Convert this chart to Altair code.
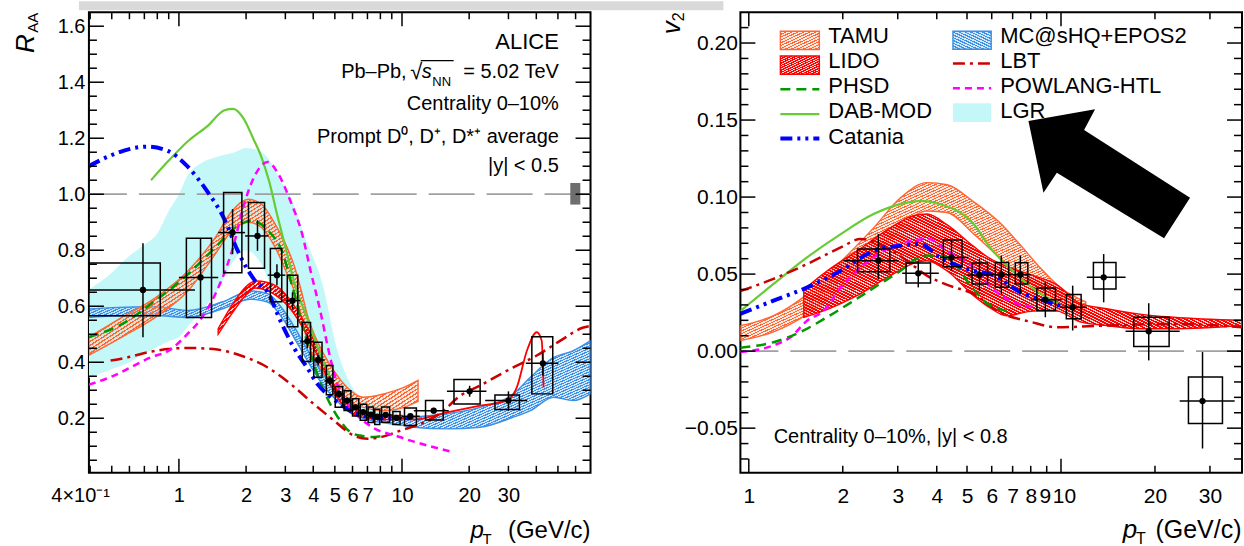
import altair as alt
import pandas as pd

FONT = "Liberation Sans"

# ================= Left panel: R_AA data (ALICE) =================
RAA_PT   = [0.69, 1.25, 1.74, 2.25, 2.75, 3.23, 3.76, 4.21, 4.75, 5.21, 5.68, 6.19, 6.7, 7.25, 7.75, 8.45, 9.45, 10.9, 13.87, 20.1, 30.0, 42.8]
RAA      = [0.658, 0.703, 0.863, 0.851, 0.711, 0.62, 0.4745, 0.408, 0.334, 0.287, 0.263, 0.239, 0.222, 0.213, 0.206, 0.212, 0.201, 0.207, 0.227, 0.296, 0.263, 0.396]
RAA_STLO = [0.489, 0.565, 0.786, 0.798, 0.675, 0.59, 0.45, 0.388, 0.318, 0.275, 0.252, 0.229, 0.213, 0.205, 0.198, 0.204, 0.193, 0.199, 0.217, 0.277, 0.227, 0.352]
RAA_STHI = [0.825, 0.84, 0.947, 0.907, 0.75, 0.65, 0.50, 0.428, 0.35, 0.30, 0.274, 0.249, 0.231, 0.221, 0.214, 0.22, 0.209, 0.215, 0.237, 0.316, 0.296, 0.435]
RAA_SYLO = [0.566, 0.56, 0.72, 0.736, 0.616, 0.527, 0.403, 0.346, 0.284, 0.239, 0.228, 0.208, 0.193, 0.185, 0.178, 0.186, 0.178, 0.174, 0.194, 0.251, 0.231, 0.287]
RAA_SYHI = [0.754, 0.843, 1.006, 0.97, 0.806, 0.711, 0.542, 0.471, 0.388, 0.313, 0.298, 0.27, 0.25, 0.24, 0.232, 0.24, 0.224, 0.237, 0.263, 0.338, 0.283, 0.491]
RAA_BXLO = [0.395, 1.08, 1.586, 2.05, 2.57, 3.06, 3.57, 4.02, 4.58, 5.02, 5.5, 6.0, 6.5, 7.05, 7.55, 8.1, 9.1, 10.26, 12.75, 17.1, 26.1, 38.2]
RAA_BXHI = [0.825, 1.40, 1.915, 2.42, 2.89, 3.41, 3.89, 4.38, 4.9, 5.42, 5.9, 6.4, 6.95, 7.45, 7.95, 8.8, 9.8, 11.6, 15.3, 22.4, 33.6, 47.4]
RAA_XLO  = [0.395, 1.0, 1.5, 1.98, 2.5, 3.0, 3.5, 4.0, 4.5, 5.0, 5.5, 6.0, 6.5, 7.0, 7.5, 8.0, 9.0, 10.0, 11.3, 15.9, 23.6, 35.9]
RAA_XHI  = [1.18, 1.5, 1.98, 2.52, 3.0, 3.5, 4.0, 4.5, 5.0, 5.5, 6.0, 6.5, 7.0, 7.5, 8.0, 9.0, 10.0, 12.0, 16.2, 23.9, 36.4, 50.2]
NORM_PT  = [56.8, 63.0]
NORM_R   = [0.963, 1.04]

# ---- left panel models ----
L_LGR_PT = [0.395, 0.5, 0.6, 0.7, 0.8, 0.9, 1.0, 1.1, 1.25, 1.5, 1.75, 2.0, 2.3, 2.5, 2.85, 3.2, 3.7, 4.4, 5.1, 5.9, 6.5, 7.2, 8.3, 9.5]
L_LGR_HI = [0.66, 0.72, 0.78, 0.82, 0.86, 0.94, 1.0, 1.07, 1.11, 1.135, 1.148, 1.165, 1.155, 1.13, 1.05, 0.98, 0.84, 0.68, 0.45, 0.32, 0.275, 0.257, 0.25, 0.24]
L_LGR_LO = [0.345, 0.375, 0.40, 0.43, 0.455, 0.475, 0.49, 0.53, 0.58, 0.66, 0.76, 0.80, 0.76, 0.70, 0.59, 0.50, 0.42, 0.33, 0.28, 0.24, 0.225, 0.215, 0.21, 0.21]

L_MC_PT = [0.395, 0.5, 0.78, 1.1, 1.56, 2.1, 2.5, 2.95, 3.27, 3.8, 4.5, 5.0, 6.0, 7.0, 8.0, 10.0, 11.3, 15.9, 22.4, 31.6, 37.6, 47.8, 58.6, 70.0]
L_MC_HI = [0.59, 0.595, 0.598, 0.585, 0.615, 0.655, 0.645, 0.585, 0.53, 0.44, 0.35, 0.30, 0.245, 0.22, 0.21, 0.20, 0.204, 0.216, 0.239, 0.287, 0.346, 0.417, 0.441, 0.477]
L_MC_LO = [0.56, 0.565, 0.567, 0.56, 0.59, 0.625, 0.615, 0.55, 0.49, 0.40, 0.31, 0.27, 0.215, 0.195, 0.185, 0.175, 0.168, 0.162, 0.168, 0.204, 0.227, 0.275, 0.263, 0.287]

L_TAMU_PT = [0.395, 0.555, 0.784, 1.1, 1.455, 1.73, 2.05, 2.35, 2.7, 3.1, 3.27, 3.55, 3.76, 4.3, 4.95, 5.68, 6.73, 8.3, 10.2, 11.8]
L_TAMU_HI = [0.49, 0.56, 0.63, 0.727, 0.845, 0.94, 0.982, 0.964, 0.893, 0.798, 0.75, 0.65, 0.57, 0.453, 0.37, 0.31, 0.275, 0.287, 0.31, 0.335]
L_TAMU_LO = [0.425, 0.49, 0.56, 0.655, 0.786, 0.87, 0.90, 0.88, 0.81, 0.703, 0.66, 0.56, 0.475, 0.382, 0.31, 0.263, 0.239, 0.227, 0.239, 0.26]

L_LIDO_PT = [1.5, 1.75, 2.0, 2.2, 2.5, 2.76, 3.27, 3.76, 4.17, 4.62, 5.12, 5.68, 6.5, 8.3, 10.0]
L_LIDO_HI = [0.52, 0.61, 0.67, 0.69, 0.685, 0.67, 0.605, 0.525, 0.455, 0.37, 0.30, 0.25, 0.225, 0.21, 0.21]
L_LIDO_LO = [0.50, 0.58, 0.64, 0.665, 0.655, 0.635, 0.575, 0.495, 0.425, 0.345, 0.275, 0.23, 0.205, 0.195, 0.195]
L_LIDO_LINE_PT = [10.0, 11.3, 15.9, 22.4, 29.5, 32.7, 36.3, 40.2, 42.3, 43.1]
L_LIDO_LINE_R  = [0.202, 0.195, 0.221, 0.245, 0.263, 0.31, 0.441, 0.507, 0.477, 0.31]

L_PHSD_PT = [0.395, 0.555, 0.784, 1.1, 1.455, 1.79, 2.12, 2.52, 2.89, 3.3, 3.7, 4.2, 4.77, 5.3, 5.87, 6.5, 7.5, 8.5]
L_PHSD_R  = [0.49, 0.536, 0.62, 0.715, 0.81, 0.881, 0.905, 0.869, 0.798, 0.64, 0.49, 0.35, 0.25, 0.19, 0.15, 0.138, 0.133, 0.14]

L_DAB_PT = [0.75, 0.9, 1.1, 1.35, 1.6, 1.75, 1.95, 2.15, 2.35, 2.55, 2.75, 3.05, 3.3, 3.75, 4.2, 4.8]
L_DAB_R  = [1.05, 1.12, 1.19, 1.245, 1.30, 1.305, 1.27, 1.2, 1.13, 1.04, 0.93, 0.79, 0.68, 0.56, 0.45, 0.34]

L_CAT_PT = [0.395, 0.5, 0.63, 0.72, 0.89, 1.09, 1.34, 1.59, 1.83, 2.0, 2.2, 2.5, 2.85, 3.27, 3.76, 4.2, 4.8, 5.4, 5.9, 6.7, 8.0, 10.0, 11.0]
L_CAT_R  = [1.10, 1.14, 1.165, 1.17, 1.155, 1.10, 1.01, 0.915, 0.80, 0.74, 0.69, 0.65, 0.548, 0.453, 0.38, 0.32, 0.275, 0.245, 0.225, 0.21, 0.2, 0.2, 0.2]

L_LBT_PT = [0.494, 0.587, 0.722, 0.887, 1.09, 1.43, 1.89, 2.49, 3.16, 4.02, 4.95, 6.07, 6.98, 8.0, 9.86, 12.1, 14.7, 18.3, 22.4, 31.6, 40.2, 51.3, 65.0, 70.0]
L_LBT_R  = [0.406, 0.417, 0.435, 0.447, 0.451, 0.447, 0.424, 0.382, 0.323, 0.251, 0.192, 0.138, 0.127, 0.132, 0.156, 0.18, 0.215, 0.281, 0.317, 0.382, 0.424, 0.477, 0.524, 0.53]

L_POW_PT = [0.395, 0.49, 0.747, 0.915, 1.09, 1.23, 1.455, 1.73, 1.98, 2.2, 2.5, 2.8, 3.16, 3.57, 3.89, 4.3, 4.69, 5.12, 5.87, 6.98, 9.86, 16.4]
L_POW_R  = [0.32, 0.346, 0.417, 0.445, 0.50, 0.545, 0.643, 0.798, 0.976, 1.07, 1.115, 1.07, 0.976, 0.857, 0.727, 0.584, 0.441, 0.323, 0.239, 0.18, 0.132, 0.082]

# ================= Right panel: v2 data (ALICE) =================
V2_PT   = [2.6, 3.49, 4.46, 5.48, 6.44, 7.41, 8.91, 10.9, 13.7, 19.1, 28.4]
V2      = [0.0587, 0.0505, 0.0608, 0.0494, 0.0496, 0.0496, 0.0333, 0.0285, 0.0479, 0.0129, -0.0324]
V2_STLO = [0.0469, 0.0414, 0.0522, 0.0393, 0.0371, 0.037, 0.022, 0.0134, 0.0317, -0.006, -0.0632]
V2_STHI = [0.076, 0.0587, 0.0717, 0.0598, 0.062, 0.062, 0.0447, 0.0425, 0.063, 0.0311, -0.0006]
V2_SYLO = [0.0516, 0.0443, 0.0548, 0.0436, 0.0414, 0.0436, 0.0263, 0.021, 0.0404, 0.003, -0.047]
V2_SYHI = [0.0663, 0.0572, 0.0721, 0.0572, 0.0576, 0.0574, 0.041, 0.0367, 0.0576, 0.022, -0.0168]
V2_BXLO = [2.23, 3.19, 4.2, 5.19, 6.16, 7.14, 8.37, 10.4, 12.7, 17.1, 25.6]
V2_BXHI = [2.83, 3.82, 4.82, 5.82, 6.8, 7.83, 9.6, 11.6, 15.0, 22.2, 32.9]
V2_XLO  = [2.01, 3.1, 4.1, 5.0, 6.0, 7.0, 8.0, 9.94, 12.1, 16.1, 24.0]
V2_XHI  = [3.02, 4.06, 5.06, 6.0, 7.0, 8.0, 10.06, 12.1, 16.1, 24.0, 36.0]

R_TAMU_PT = [0.94, 1.2, 1.54, 1.97, 2.51, 3.06, 3.72, 4.32, 5.25, 6.4, 7.4, 8.5, 10.0, 12.0]
R_TAMU_HI = [0.0166, 0.023, 0.037, 0.058, 0.080, 0.0995, 0.1094, 0.108, 0.097, 0.083, 0.069, 0.055, 0.041, 0.032]
R_TAMU_LO = [0.0069, 0.0125, 0.024, 0.041, 0.061, 0.080, 0.091, 0.090, 0.076, 0.060, 0.048, 0.038, 0.030, 0.026]

R_LIDO_PT = [1.5, 1.78, 2.22, 2.84, 3.37, 3.72, 4.32, 5.25, 5.93, 6.7, 8.17, 9.7, 11.5, 14.0, 17.9, 22.9, 38.0]
R_LIDO_HI = [0.040, 0.052, 0.065, 0.080, 0.088, 0.089, 0.082, 0.068, 0.060, 0.055, 0.049, 0.043, 0.031, 0.0275, 0.024, 0.022, 0.020]
R_LIDO_LO = [0.022, 0.027, 0.036, 0.049, 0.057, 0.0587, 0.052, 0.036, 0.028, 0.023, 0.026, 0.026, 0.019, 0.0166, 0.0145, 0.0145, 0.0166]

R_PHSD_PT = [0.94, 1.2, 1.46, 1.78, 2.17, 2.63, 3.06, 3.37, 3.72, 4.3, 5.25, 5.8, 6.8]
R_PHSD_V  = [0.0022, 0.0058, 0.0123, 0.022, 0.0328, 0.0436, 0.0522, 0.0587, 0.062, 0.061, 0.040, 0.031, 0.026]

R_DAB_PT = [0.94, 1.2, 1.54, 1.97, 2.51, 3.21, 3.54, 4.1, 5.25, 5.93, 7.0, 8.5, 10.0]
R_DAB_V  = [0.026, 0.0436, 0.061, 0.076, 0.089, 0.0964, 0.0975, 0.0954, 0.0825, 0.0673, 0.052, 0.038, 0.030]

R_CAT_PT = [0.94, 1.2, 1.54, 1.97, 2.51, 3.06, 3.54, 4.1, 5.25, 5.93, 7.6, 9.2, 10.2]
R_CAT_V  = [0.0242, 0.0328, 0.0414, 0.0522, 0.065, 0.0684, 0.0695, 0.0608, 0.0522, 0.05, 0.0371, 0.0317, 0.0285]

R_LBT_PT = [0.94, 1.2, 1.54, 1.97, 2.28, 2.63, 3.21, 3.72, 4.32, 5.25, 6.4, 8.0, 9.7, 14.0, 22.9, 38.0]
R_LBT_V  = [0.039, 0.0469, 0.0566, 0.0673, 0.0728, 0.0695, 0.0587, 0.049, 0.043, 0.037, 0.025, 0.019, 0.0155, 0.0166, 0.0177, 0.0155]

R_POW_PT = [0.94, 1.2, 1.36, 1.54, 1.74, 1.97, 2.22, 2.51, 2.84, 3.37, 3.72, 4.32, 5.25, 5.93, 7.2, 8.4]
R_POW_V  = [-0.0006, 0.0037, 0.009, 0.0199, 0.0263, 0.0414, 0.0522, 0.0608, 0.0673, 0.0717, 0.073, 0.065, 0.0544, 0.042, 0.031, 0.0285]

# tick labels
XL_LABELS = [0.4, 1, 2, 3, 4, 5, 6, 7, 10, 20, 30]
YL_LABELS = [0.2, 0.4, 0.6, 0.8, 1.0, 1.2, 1.4, 1.6]
XR_LABELS = [1, 2, 3, 4, 5, 6, 7, 8, 9, 10, 20, 30]
YR_LABELS = [-0.05, 0.0, 0.05, 0.10, 0.15, 0.20]

LEG_LEFT = ["TAMU", "LIDO", "PHSD", "DAB-MOD", "Catania"]
LEG_RIGHT = ["MC@sHQ+EPOS2", "LBT", "POWLANG-HTL", "LGR"]

# ================= styles =================
C_TAMU = "#ff6633"
C_LIDO = "#ff0000"
C_MC = "#3d8fe6"
C_LGR = "#c4f7f8"
C_PHSD = "#009900"
C_DAB = "#66cc33"
C_CAT = "#0000ff"
C_LBT = "#cc0000"
C_POW = "#ff00ff"
D_PHSD = [10, 6]
D_POW = [7, 5]
D_LBT = [12, 5, 3, 5]
D_CAT = [12, 5, 3, 5, 3, 5]


def hatch(color, gap, n, duty, down=False):
    """Striped linear gradient that imitates a ROOT hatch fill."""
    stops = []
    for i in range(n):
        a = round(i / n, 5)
        b = round((i + duty) / n, 5)
        c = round((i + 1) / n, 5)
        stops += [{"offset": a, "color": color}, {"offset": b, "color": color},
                  {"offset": b, "color": gap}, {"offset": c, "color": gap}]
    if down:
        return {"gradient": "linear", "x1": 0, "y1": 1, "x2": 1, "y2": 0, "stops": stops}
    return {"gradient": "linear", "x1": 0, "y1": 0, "x2": 1, "y2": 1, "stops": stops}


G_TAMU = "rgba(255,190,160,0.35)"
G_LIDO = "rgba(255,170,170,0.55)"
G_MC = "rgba(170,210,248,0.55)"

W, H = 502, 461
one = pd.DataFrame({"k": [0]})

AX_XL = alt.Axis(values=XL_LABELS, ticks=False, domain=False, grid=False, title=None,
                 labelExpr="datum.value < 0.5 ? '4×10⁻¹' : format(datum.value, '~g')",
                 labelFontSize=20, labelPadding=13, labelOverlap=False, labelFlush=False,
                 labelOffset={"condition": {"test": "datum.value < 0.5", "value": -10}, "value": 0})
AX_YL = alt.Axis(values=YL_LABELS, format=".1f", ticks=False, domain=False, grid=False, title=None,
                 labelFontSize=20, labelPadding=4, labelOverlap=False)
AX_XR = alt.Axis(values=XR_LABELS, format="~g", ticks=False, domain=False, grid=False, title=None,
                 labelFontSize=21, labelPadding=13, labelOverlap=False, labelFlush=False,
                 labelOffset={"expr": "datum.value == 10 ? 3 : (datum.value == 9 ? -2 : 0)"})
AX_YR = alt.Axis(values=YR_LABELS, format=".2f", ticks=False, domain=False, grid=False, title=None,
                 labelExpr="replace(datum.label, '-', '−')",
                 labelFontSize=21, labelPadding=3, labelOverlap=False)

PL = dict(xs=alt.Scale(type="log", domain=[0.395, 70], nice=False),
          ys=alt.Scale(domain=[0.005, 1.65], nice=False, zero=False), ax=AX_XL, ay=AX_YL)
PR = dict(xs=alt.Scale(type="log", domain=[0.94, 38], nice=False),
          ys=alt.Scale(domain=[-0.079, 0.22], nice=False, zero=False), ax=AX_XR, ay=AX_YR)


def X(f, P):
    return alt.X(f, type="quantitative", scale=P["xs"], axis=P["ax"])


def Y(f, P):
    return alt.Y(f, type="quantitative", scale=P["ys"], axis=P["ay"])


def band(pt, hi, lo, P, fill, stroke, fop=1.0):
    df = pd.DataFrame({"pt": pt, "hi": hi, "lo": lo})
    kw = dict(fill=fill, fillOpacity=fop, interpolate="monotone", clip=True)
    if stroke:
        kw["stroke"] = stroke
        kw["strokeWidth"] = 1.4
    return alt.Chart(df).mark_area(**kw).encode(x=X("pt", P), y=Y("hi", P), y2=alt.Y2("lo"))


def curve(pt, y, P, color, width, dash=None):
    kw = dict(color=color, strokeWidth=width, interpolate="monotone", clip=True)
    if dash:
        kw["strokeDash"] = dash
    df = pd.DataFrame({"pt": pt, "y": y})
    return alt.Chart(df).mark_line(**kw).encode(x=X("pt", P), y=Y("y", P))


def data_layers(df, P):
    base = alt.Chart(df)
    boxes = base.mark_rect(fillOpacity=0, stroke="black", strokeWidth=1.5).encode(
        x=X("bxlo", P), x2=alt.X2("bxhi"), y=Y("sylo", P), y2=alt.Y2("syhi"))
    xerr = base.mark_rule(color="black", strokeWidth=1.5).encode(
        x=X("xlo", P), x2=alt.X2("xhi"), y=Y("v", P))
    yerr = base.mark_rule(color="black", strokeWidth=1.5).encode(
        x=X("pt", P), y=Y("stlo", P), y2=alt.Y2("sthi"))
    pts = base.mark_circle(size=40, color="black", opacity=1).encode(x=X("pt", P), y=Y("v", P))
    return [boxes, xerr, yerr, pts]


def ticks(P, xmaj, xmin, ymaj, ymin):
    out = []
    for vals, L in ((xmaj, 14), (xmin, 7)):
        b = alt.Chart(pd.DataFrame({"v": vals})).mark_rule(color="black", strokeWidth=1.5)
        out.append(b.encode(x=X("v", P), y=alt.value(H), y2=alt.value(H - L)))
        out.append(b.encode(x=X("v", P), y=alt.value(0), y2=alt.value(L)))
    for vals, L in ((ymaj, 15), (ymin, 8)):
        b = alt.Chart(pd.DataFrame({"v": vals})).mark_rule(color="black", strokeWidth=1.5)
        out.append(b.encode(y=Y("v", P), x=alt.value(0), x2=alt.value(L)))
        out.append(b.encode(y=Y("v", P), x=alt.value(W), x2=alt.value(W - L)))
    return out


def txt(s, x, y, size, align="left", baseline="alphabetic", italic=False, angle=0):
    kw = dict(text=s, fontSize=size, font=FONT, align=align, baseline=baseline, color="black")
    if italic:
        kw["fontStyle"] = "italic"
    if angle:
        kw["angle"] = angle
    return alt.Chart(one).mark_text(**kw).encode(x=alt.value(x), y=alt.value(y))


def prect(x1, x2, y1, y2, fill, stroke=None, fop=1.0):
    kw = dict(fill=fill, fillOpacity=fop)
    if stroke:
        kw["stroke"] = stroke
        kw["strokeWidth"] = 1.4
    return alt.Chart(one).mark_rect(**kw).encode(
        x=alt.value(x1), x2=alt.value(x2), y=alt.value(y1), y2=alt.value(y2))


def pline(x1, x2, y, color, width, dash=None):
    kw = dict(color=color, strokeWidth=width)
    if dash:
        kw["strokeDash"] = dash
    return alt.Chart(one).mark_rule(**kw).encode(x=alt.value(x1), x2=alt.value(x2), y=alt.value(y))


def dashed_ref(val, P):
    return alt.Chart(pd.DataFrame({"v": [val]})).mark_rule(
        color="#a0a0a0", strokeWidth=1.8, strokeDash=[46, 12]).encode(y=Y("v", P))


raa_df = pd.DataFrame({"pt": RAA_PT, "v": RAA, "stlo": RAA_STLO, "sthi": RAA_STHI,
                       "sylo": RAA_SYLO, "syhi": RAA_SYHI, "bxlo": RAA_BXLO, "bxhi": RAA_BXHI,
                       "xlo": RAA_XLO, "xhi": RAA_XHI})
v2_df = pd.DataFrame({"pt": V2_PT, "v": V2, "stlo": V2_STLO, "sthi": V2_STHI,
                      "sylo": V2_SYLO, "syhi": V2_SYHI, "bxlo": V2_BXLO, "bxhi": V2_BXHI,
                      "xlo": V2_XLO, "xhi": V2_XHI})

xl_min = [round(m * 0.1, 2) for m in range(4, 10)] + list(range(2, 10)) + [20, 30, 40, 50, 60]
yl_min = [round(0.05 * i, 3) for i in range(1, 33) if i % 4 != 0]
xr_min = list(range(2, 10)) + [20, 30]
yr_maj = [-0.05, 0.0, 0.05, 0.10, 0.15, 0.20]
yr_min = [round(0.01 * i, 3) for i in range(-7, 22) if i % 5 != 0]

norm = alt.Chart(pd.DataFrame({"a": [NORM_PT[0]], "b": [NORM_PT[1]], "c": [NORM_R[0]], "d": [NORM_R[1]]})).mark_rect(
    fill="#6e6e6e").encode(x=X("a", PL), x2=alt.X2("b"), y=Y("c", PL), y2=alt.Y2("d"))

left_layers = [
    band(L_LGR_PT, L_LGR_HI, L_LGR_LO, PL, C_LGR, None),
    band(L_MC_PT, L_MC_HI, L_MC_LO, PL, hatch(C_MC, G_MC, 170, 0.45, down=True), C_MC),
    band(L_TAMU_PT, L_TAMU_HI, L_TAMU_LO, PL, hatch(C_TAMU, G_TAMU, 110, 0.4), C_TAMU),
    band(L_LIDO_PT, L_LIDO_HI, L_LIDO_LO, PL, hatch(C_LIDO, G_LIDO, 70, 0.6), C_LIDO),
    curve(L_LIDO_LINE_PT, L_LIDO_LINE_R, PL, C_LIDO, 1.8),
    dashed_ref(1.0, PL),
    curve(L_DAB_PT, L_DAB_R, PL, C_DAB, 2.2),
    curve(L_PHSD_PT, L_PHSD_R, PL, C_PHSD, 2.5, D_PHSD),
    curve(L_LBT_PT, L_LBT_R, PL, C_LBT, 2.5, D_LBT),
    curve(L_POW_PT, L_POW_R, PL, C_POW, 2.5, D_POW),
    curve(L_CAT_PT, L_CAT_R, PL, C_CAT, 4, D_CAT),
] + data_layers(raa_df, PL) + [norm] + ticks(PL, [1, 10], xl_min, YL_LABELS, yl_min) + [
    txt("ALICE", 470.3, 37, 22, align="right"),
    txt("Pb–Pb,", 318, 66.3, 20, align="right"),
    txt("√", 321.5, 67, 22),
    pline(332, 365, 48.5, "black", 1.3),
    txt("s", 333, 66.3, 20, italic=True),
    txt("NN", 343.7, 73.5, 13),
    txt("= 5.02 TeV", 470.3, 66.3, 20, align="right"),
    txt("Centrality 0–10%", 470.3, 98.3, 20, align="right"),
    txt("Prompt D⁰, D⁺, D*⁺ average", 470.3, 130.7, 20, align="right"),
    txt("|y| < 0.5", 470.3, 159.7, 20, align="right"),
    txt("R", -54.7, 40.7, 26, italic=True, angle=270),
    txt("AA", -51, 20.5, 15, angle=270),
    txt("p", 382, 526, 24, italic=True),
    txt("T", 394, 532, 15),
    txt("(GeV/c)", 502, 526, 24, align="right"),
]
left = alt.layer(*left_layers).properties(width=W, height=H)

# arrow as a custom symbol path (unit square -1..1)
ARROW = ("M -0.897 -0.578 L -0.156 -0.711 L -0.278 -0.478 L 0.9 0.274 "
         "L 0.611 0.726 L -0.581 -0.003 L -0.730 0.219 Z")
arrow = alt.Chart(one).mark_point(shape=ARROW, size=32400, filled=True, color="black",
                                  opacity=1, strokeWidth=0).encode(x=alt.value(369), y=alt.value(161))

leg_left_y = [24 + 25.1 * i for i in range(len(LEG_LEFT))]
leg_right_y = [24 + 25.1 * i for i in range(len(LEG_RIGHT))]

right_layers = [
    band(R_TAMU_PT, R_TAMU_HI, R_TAMU_LO, PR, hatch(C_TAMU, G_TAMU, 115, 0.4), C_TAMU),
    band(R_LIDO_PT, R_LIDO_HI, R_LIDO_LO, PR, hatch(C_LIDO, G_LIDO, 150, 0.6), C_LIDO),
    dashed_ref(0.0, PR),
    curve(R_DAB_PT, R_DAB_V, PR, C_DAB, 2.2),
    curve(R_LBT_PT, R_LBT_V, PR, C_LBT, 2.5, D_LBT),
    curve(R_POW_PT, R_POW_V, PR, C_POW, 2.5, D_POW),
    curve(R_PHSD_PT, R_PHSD_V, PR, C_PHSD, 2.5, D_PHSD),
    curve(R_CAT_PT, R_CAT_V, PR, C_CAT, 4, D_CAT),
] + data_layers(v2_df, PR) + ticks(PR, [1, 10], xr_min, yr_maj, yr_min) + [
    # legend swatches
    prect(40, 79, leg_left_y[0] - 5, leg_left_y[0] + 13.3, hatch(C_TAMU, G_TAMU, 13, 0.4), C_TAMU),
    prect(40, 79, leg_left_y[1] - 5.3, leg_left_y[1] + 13, hatch(C_LIDO, G_LIDO, 16, 0.6), C_LIDO),
    pline(40, 79, leg_left_y[2] + 3, C_PHSD, 2.5, D_PHSD),
    pline(40, 79, leg_left_y[3] + 2.7, C_DAB, 2.2),
    pline(40, 79, leg_left_y[4] + 2, C_CAT, 4, D_CAT),
    prect(212.7, 251, leg_right_y[0] - 5, leg_right_y[0] + 13, hatch(C_MC, G_MC, 13, 0.45, down=True), C_MC),
    pline(212.7, 251, leg_right_y[1] + 2.2, C_LBT, 2.5, D_LBT),
    pline(212.7, 251, leg_right_y[2] + 2, C_POW, 2.5, D_POW),
    prect(212.7, 251, leg_right_y[3] - 8.3, leg_right_y[3] + 10.7, C_LGR),
] + [txt(s, 88, y, 22, baseline="middle") for s, y in zip(LEG_LEFT, leg_left_y)] + [
    txt(s, 260, y, 22, baseline="middle") for s, y in zip(LEG_RIGHT, leg_right_y)] + [
    txt("Centrality 0–10%, |y| < 0.8", 33.3, 430.7, 20),
    txt("v", -60, 22, 26, italic=True, angle=270),
    txt("2", -56, 9, 16, angle=270),
    txt("p", 382.7, 526, 26, italic=True),
    txt("T", 396, 532, 16),
    txt("(GeV/c)", 501.5, 526, 25, align="right"),
    arrow,
    prect(-662, -17, -11, -2, "#d9d9d9"),
]
right = alt.layer(*right_layers).properties(width=W, height=H)

chart = alt.hconcat(left, right, spacing=150, bounds="flush").properties(
    padding={"left": 12, "top": 0, "right": 0, "bottom": 0},
    background="white",
).configure_view(stroke="black", strokeWidth=2).configure_axis(
    labelFont=FONT, labelColor="black")

chart.save("out.html", embed_options={"renderer": "svg", "actions": False})
